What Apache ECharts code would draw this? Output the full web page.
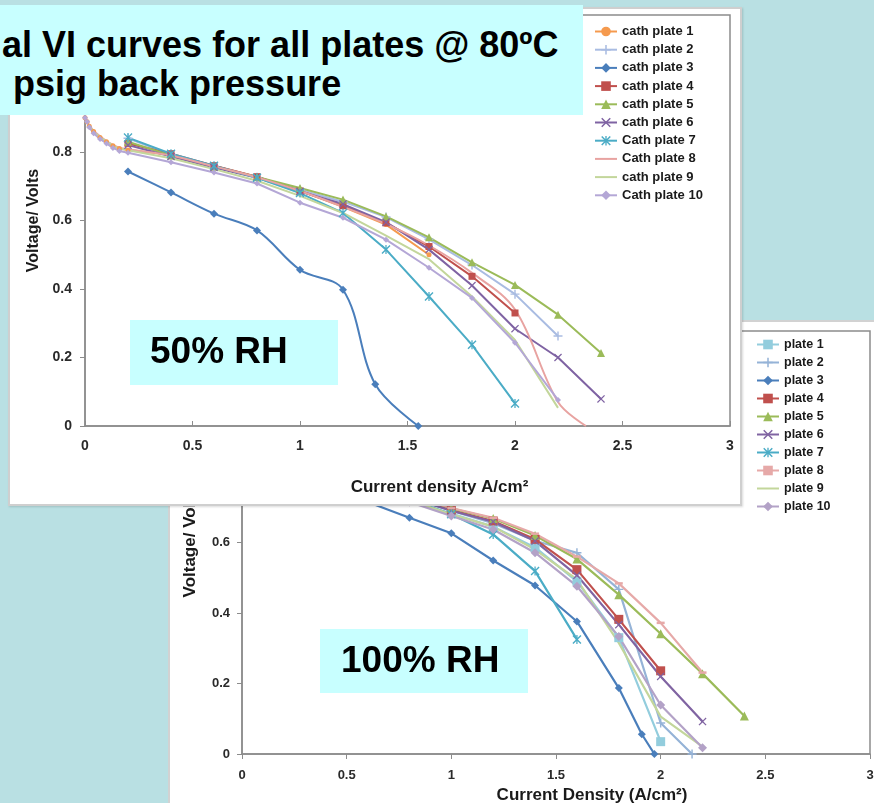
<!DOCTYPE html>
<html><head><meta charset="utf-8">
<script src="https://cdn.jsdelivr.net/npm/echarts/dist/echarts.min.js"></script>
<style>
html,body{margin:0;padding:0;width:874px;height:803px;overflow:hidden;background:#b9e0e3;font-family:'Liberation Sans',Arial,sans-serif;}
.abs{position:absolute;}
#panel2{left:168px;top:320px;width:720px;height:500px;background:#fff;border:2px solid #d2d2d2;box-sizing:border-box;}
#chart2{left:0;top:0;width:874px;height:803px;}
#panel1{left:8px;top:7px;width:734px;height:499px;background:#fff;border:2px solid #cfcfcf;box-sizing:border-box;box-shadow:1px 1px 2px rgba(0,0,0,0.15);}
#chart1{left:0;top:0;width:874px;height:803px;}
#title{left:0;top:5px;width:583px;height:110px;background:#c8ffff;font-weight:bold;font-size:36px;color:#000;}
#title div{white-space:nowrap;line-height:39px;}
</style>
</head>
<body>
<div id="panel2" class="abs"></div>
<div id="chart2" class="abs"></div>
<div id="panel1" class="abs"></div>
<div id="chart1" class="abs"></div>
<div id="title" class="abs">
  <div class="abs" style="left:2px;top:20px;">al VI curves for all plates @ 80ºC</div>
  <div class="abs" style="left:13px;top:59px;">psig back pressure</div>
</div>
<script>
// ---------- DATA: 50% RH (top chart) ----------
const NAMES_50 = ['cath plate 1','cath plate 2','cath plate 3','cath plate 4','cath plate 5','cath plate 6','Cath plate 7','Cath plate 8','cath plate 9','Cath plate 10'];
const c50_p1 = [[0,0.9],[0.01,0.888],[0.02,0.875],[0.04,0.86],[0.07,0.842],[0.1,0.83],[0.13,0.818],[0.16,0.81],[0.2,0.806],[0.4,0.792],[0.6,0.76],[0.8,0.727],[1.0,0.687],[1.2,0.64],[1.4,0.588],[1.6,0.5]];
const c50_p2 = [[0.2,0.84],[0.4,0.792],[0.6,0.757],[0.8,0.726],[1.0,0.69],[1.2,0.655],[1.4,0.61],[1.6,0.545],[1.8,0.47],[2.0,0.385],[2.2,0.263]];
const c50_p3 = [[0.2,0.743],[0.4,0.682],[0.6,0.62],[0.8,0.571],[1.0,0.456],[1.2,0.398],[1.35,0.122],[1.55,0]];
const c50_p4 = [[0.2,0.825],[0.4,0.795],[0.6,0.76],[0.8,0.728],[1.0,0.686],[1.2,0.643],[1.4,0.593],[1.6,0.524],[1.8,0.437],[2.0,0.33]];
const c50_p5 = [[0.2,0.83],[0.4,0.79],[0.6,0.757],[0.8,0.727],[1.0,0.695],[1.2,0.661],[1.4,0.612],[1.6,0.551],[1.8,0.478],[2.0,0.412],[2.2,0.325],[2.4,0.213]];
const c50_p6 = [[0.2,0.82],[0.4,0.787],[0.6,0.755],[0.8,0.725],[1.0,0.685],[1.2,0.648],[1.4,0.595],[1.6,0.515],[1.8,0.41],[2.0,0.284],[2.2,0.2],[2.4,0.079]];
const c50_p7 = [[0.2,0.842],[0.4,0.795],[0.6,0.76],[0.8,0.725],[1.0,0.68],[1.2,0.622],[1.4,0.515],[1.6,0.378],[1.8,0.237],[2.0,0.066]];
const c50_p8 = [[0,0.9],[0.02,0.877],[0.05,0.856],[0.1,0.832],[0.15,0.815],[0.2,0.808],[0.4,0.79],[0.6,0.758],[0.8,0.726],[1.0,0.686],[1.2,0.64],[1.4,0.59],[1.6,0.527],[1.8,0.447],[2.0,0.34],[2.2,0.07],[2.33,0]];
const c50_p9 = [[0,0.9],[0.02,0.875],[0.05,0.853],[0.1,0.83],[0.15,0.812],[0.2,0.805],[0.4,0.782],[0.6,0.75],[0.8,0.716],[1.0,0.672],[1.2,0.622],[1.4,0.556],[1.6,0.487],[1.8,0.378],[2.0,0.251],[2.2,0.053]];
const c50_p10 = [[0,0.9],[0.01,0.888],[0.02,0.872],[0.04,0.855],[0.07,0.838],[0.1,0.825],[0.13,0.812],[0.16,0.803],[0.2,0.798],[0.4,0.77],[0.6,0.74],[0.8,0.708],[1.0,0.652],[1.2,0.608],[1.4,0.544],[1.6,0.462],[1.8,0.374],[2.0,0.243],[2.2,0.076]];

// ---------- DATA: 100% RH (bottom chart) ----------
const NAMES_100 = ['plate 1','plate 2','plate 3','plate 4','plate 5','plate 6','plate 7','plate 8','plate 9','plate 10'];
const c100_p1 = [[0,0.95],[0.2,0.82],[0.4,0.78],[0.6,0.75],[0.8,0.72],[1.0,0.682],[1.2,0.645],[1.4,0.586],[1.6,0.49],[1.8,0.33],[2.0,0.035]];
const c100_p2 = [[0,0.95],[0.2,0.83],[0.4,0.79],[0.6,0.76],[0.8,0.727],[1.0,0.69],[1.2,0.655],[1.4,0.605],[1.6,0.571],[1.8,0.467],[2.0,0.088],[2.15,0]];
const c100_p3 = [[0,0.95],[0.2,0.8],[0.4,0.757],[0.6,0.715],[0.8,0.67],[1.0,0.626],[1.2,0.549],[1.4,0.478],[1.6,0.376],[1.8,0.187],[1.91,0.056],[1.97,0]];
const c100_p4 = [[0,0.95],[0.2,0.83],[0.4,0.79],[0.6,0.762],[0.8,0.73],[1.0,0.692],[1.2,0.661],[1.4,0.609],[1.6,0.523],[1.8,0.382],[2.0,0.236]];
const c100_p5 = [[0,0.95],[0.2,0.83],[0.4,0.792],[0.6,0.763],[0.8,0.732],[1.0,0.697],[1.2,0.668],[1.4,0.62],[1.6,0.553],[1.8,0.452],[2.0,0.341],[2.2,0.228],[2.4,0.108]];
const c100_p6 = [[0,0.95],[0.2,0.83],[0.4,0.79],[0.6,0.76],[0.8,0.728],[1.0,0.69],[1.2,0.659],[1.4,0.604],[1.6,0.507],[1.8,0.367],[2.0,0.22],[2.2,0.092]];
const c100_p7 = [[0,0.95],[0.2,0.83],[0.4,0.785],[0.6,0.755],[0.8,0.722],[1.0,0.68],[1.2,0.623],[1.4,0.519],[1.6,0.325]];
const c100_p8 = [[0,0.95],[0.2,0.83],[0.4,0.792],[0.6,0.763],[0.8,0.733],[1.0,0.698],[1.2,0.67],[1.4,0.625],[1.6,0.56],[1.8,0.484],[2.0,0.372],[2.2,0.231]];
const c100_p9 = [[0,0.95],[0.2,0.82],[0.4,0.782],[0.6,0.752],[0.8,0.72],[1.0,0.68],[1.2,0.645],[1.4,0.58],[1.6,0.495],[1.8,0.315],[2.0,0.106],[2.2,0.021]];
const c100_p10 = [[0,0.95],[0.2,0.82],[0.4,0.78],[0.6,0.748],[0.8,0.715],[1.0,0.675],[1.2,0.637],[1.4,0.571],[1.6,0.476],[1.8,0.333],[2.0,0.139],[2.2,0.018]];

const X_TICKS = {min:0, max:3, interval:0.5};
const Y_TICKS = {min:0, max:1.2, interval:0.2};

// ---------- STYLES ----------
const FONT = "'Liberation Sans', Arial, sans-serif";
const PLUS = 'path://M4.2,0H5.8V4.2H10V5.8H5.8V10H4.2V5.8H0V4.2H4.2Z';
const XMARK = 'path://M0,1.1L1.1,0L5,3.9L8.9,0L10,1.1L6.1,5L10,8.9L8.9,10L5,6.1L1.1,10L0,8.9L3.9,5Z';
const STAR = 'path://M0,1.1L1.1,0L5,3.9L8.9,0L10,1.1L6.1,5L10,8.9L8.9,10L5,6.1L1.1,10L0,8.9L3.9,5Z M4.3,0H5.7V10H4.3Z';
const DASH = 'path://M0,0H10V3H0Z';

const STYLE_50 = [
  {color:'#f59a4e', symbol:'circle', size:5},
  {color:'#a9bce2', symbol:PLUS, size:9},
  {color:'#4a7ebb', symbol:'diamond', size:8, smooth:0.35},
  {color:'#c0504d', symbol:'rect', size:7},
  {color:'#9bbb59', symbol:'triangle', size:8},
  {color:'#7f63a3', symbol:XMARK, size:8},
  {color:'#4bacc6', symbol:STAR, size:9},
  {color:'#e8a3a1', symbol:'none', size:0, smooth:0.35},
  {color:'#c3d69b', symbol:'none', size:0},
  {color:'#b4a7d6', symbol:'diamond', size:6}
];
const STYLE_100 = [
  {color:'#93cddd', symbol:'rect', size:9},
  {color:'#95b3d7', symbol:PLUS, size:9},
  {color:'#4a7ebb', symbol:'diamond', size:8},
  {color:'#c0504d', symbol:'rect', size:9},
  {color:'#9bbb59', symbol:'triangle', size:9},
  {color:'#8064a2', symbol:XMARK, size:8},
  {color:'#4bacc6', symbol:STAR, size:9},
  {color:'#e6a9a8', symbol:DASH, size:[8,2.5]},
  {color:'#c3d69b', symbol:'none', size:0},
  {color:'#b3a2c7', symbol:'diamond', size:9}
];

function buildSeries(names, datas, styles, lw){
  return names.map((n,i)=>{
    const st = styles[i];
    const none = st.symbol === 'none';
    return {
      type:'line', name:n, data:datas[i],
      symbol: none ? 'circle' : st.symbol,
      symbolSize: none ? 1 : st.size,
      showSymbol: !none,
      smooth: st.smooth || false,
      lineStyle:{color:st.color, width:lw},
      itemStyle:{color:st.color, borderWidth:0, opacity: none ? 0 : 1},
      emphasis:{disabled:true}
    };
  });
}

function axisCommon(fs, margin){
  return {
    axisLine:{show:true, lineStyle:{color:'#8c8c8c', width:1.5}},
    axisTick:{show:true, length:5, lineStyle:{color:'#8c8c8c', width:1}},
    splitLine:{show:false},
    axisLabel:{color:'#2a2a2a', fontWeight:'bold', fontSize:fs, fontFamily:FONT, margin:margin}
  };
}

// ---------- CHART 1 (50% RH) ----------
const chart1 = echarts.init(document.getElementById('chart1'), null, {renderer:'canvas'});
const ax1 = axisCommon(14, 13);
chart1.setOption({
  animation:false,
  grid:{left:85, top:15, width:645, height:411, show:true, borderColor:'#8c8c8c', borderWidth:1.5, backgroundColor:'transparent', outerBoundsMode:'none', containLabel:false},
  xAxis:Object.assign({type:'value', min:X_TICKS.min, max:X_TICKS.max, interval:X_TICKS.interval,
    name:'Current density A/cm²', nameLocation:'middle', nameGap:53,
    nameTextStyle:{color:'#1a1a1a', fontWeight:'bold', fontSize:17, fontFamily:FONT, padding:[0,0,0,64]}}, ax1,
    {axisTick:{show:true, inside:true, length:5, lineStyle:{color:'#8c8c8c'}}}),
  yAxis:Object.assign({type:'value', min:Y_TICKS.min, max:Y_TICKS.max, interval:Y_TICKS.interval,
    name:'Voltage/ Volts', nameLocation:'middle', nameRotate:90, nameGap:43,
    nameTextStyle:{color:'#1a1a1a', fontWeight:'bold', fontSize:16, fontFamily:FONT}}, ax1),
  legend:{left:594, top:25, padding:0, orient:'vertical', itemWidth:22, itemHeight:12, itemGap:5.2,
    textStyle:{fontSize:13, fontWeight:'bold', color:'#1a1a1a', fontFamily:FONT, lineHeight:12},
    data:NAMES_50},
  graphic:[
    {type:'rect', z:100, shape:{x:130, y:320, width:208, height:65}, style:{fill:'#c8ffff'}},
    {type:'text', z:101, x:150, y:353, style:{text:'50% RH', font:"bold 37px 'Liberation Sans', Arial, sans-serif", fill:'#000', align:'left', verticalAlign:'middle'}}
  ],
  series:buildSeries(NAMES_50, [c50_p1,c50_p2,c50_p3,c50_p4,c50_p5,c50_p6,c50_p7,c50_p8,c50_p9,c50_p10], STYLE_50, 2)
});

// ---------- CHART 2 (100% RH) ----------
const chart2 = echarts.init(document.getElementById('chart2'), null, {renderer:'canvas'});
const ax2 = axisCommon(13, 12);
chart2.setOption({
  animation:false,
  grid:{left:242, top:331, width:628, height:423, show:true, borderColor:'#8c8c8c', borderWidth:1.5, backgroundColor:'transparent', outerBoundsMode:'none', containLabel:false},
  xAxis:Object.assign({type:'value', min:X_TICKS.min, max:X_TICKS.max, interval:X_TICKS.interval,
    name:'Current Density (A/cm²)', nameLocation:'middle', nameGap:30,
    nameTextStyle:{color:'#1a1a1a', fontWeight:'bold', fontSize:17, fontFamily:FONT, padding:[0,0,0,72]}}, ax2,
    {axisLabel:{color:'#2a2a2a', fontWeight:'bold', fontSize:13, fontFamily:FONT, margin:15}}),
  yAxis:Object.assign({type:'value', min:Y_TICKS.min, max:Y_TICKS.max, interval:Y_TICKS.interval,
    name:'Voltage/ Volts', nameLocation:'middle', nameRotate:90, nameGap:43,
    nameTextStyle:{color:'#1a1a1a', fontWeight:'bold', fontSize:17, fontFamily:FONT}}, ax2),
  legend:{left:756, top:338, padding:0, orient:'vertical', itemWidth:22, itemHeight:12, itemGap:5,
    textStyle:{fontSize:12.5, fontWeight:'bold', color:'#1a1a1a', fontFamily:FONT, lineHeight:12},
    data:NAMES_100},
  graphic:[
    {type:'rect', z:100, shape:{x:320, y:629, width:208, height:64}, style:{fill:'#c8ffff'}},
    {type:'text', z:101, x:341, y:662, style:{text:'100% RH', font:"bold 37px 'Liberation Sans', Arial, sans-serif", fill:'#000', align:'left', verticalAlign:'middle'}}
  ],
  series:buildSeries(NAMES_100, [c100_p1,c100_p2,c100_p3,c100_p4,c100_p5,c100_p6,c100_p7,c100_p8,c100_p9,c100_p10], STYLE_100, 2.2)
});
</script>
</body></html>
